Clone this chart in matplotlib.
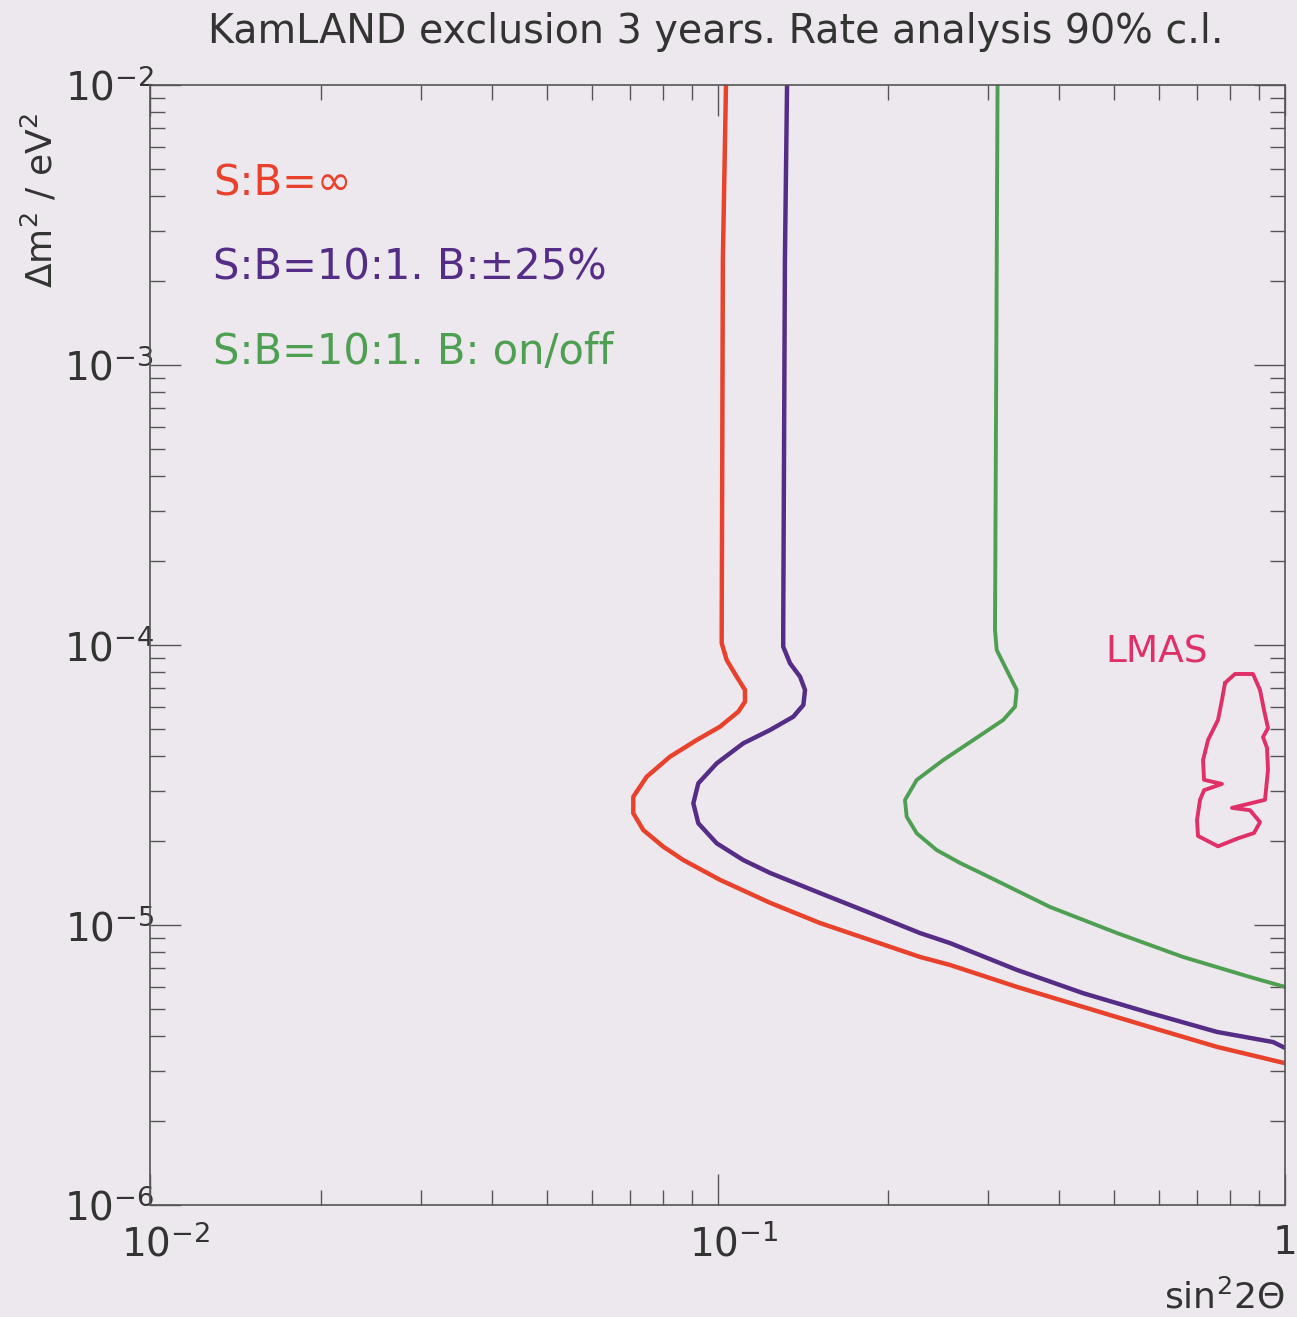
import matplotlib
matplotlib.use("Agg")
import matplotlib.pyplot as plt
import matplotlib.transforms as mtransforms
from matplotlib.ticker import LogLocator, FixedFormatter, NullFormatter, FixedLocator

# exclusion contours (sin^2 2theta, dm^2 in eV^2)
red_x = [0.1035, 0.1022, 0.10172, 0.10172, 0.10380, 0.1081, 0.1118, 0.1118, 0.1088,
         0.10102, 0.09191, 0.08245, 0.07503, 0.07106, 0.07106, 0.07400, 0.08025, 0.08705,
         0.1010, 0.1238, 0.1516, 0.1857, 0.2274, 0.2568, 0.3371, 0.4406, 0.5782, 0.7589, 1.0]
red_y = [1e-2, 2.371e-3, 1.1313e-4, 1.0141e-4, 8.841e-5, 7.705e-5, 6.909e-5, 6.274e-5, 5.778e-5,
         5.108e-5, 4.577e-5, 3.990e-5, 3.385e-5, 2.871e-5, 2.506e-5, 2.184e-5, 1.904e-5, 1.706e-5,
         1.45e-5, 1.20e-5, 1.016e-5, 8.84e-6, 7.69e-6, 7.20e-6, 6.01e-6, 5.10e-6, 4.32e-6,
         3.67e-6, 3.21e-6]

purple_x = [0.1326, 0.13146, 0.13056, 0.13056, 0.13421, 0.13979, 0.14265, 0.14167, 0.13602,
            0.12377, 0.11102, 0.09968, 0.09251, 0.09066, 0.09251, 0.09968, 0.11102, 0.1238,
            0.1516, 0.1857, 0.2274, 0.2568, 0.3371, 0.4406, 0.5782, 0.7589, 0.9525, 1.0]
purple_y = [1e-2, 2.371e-3, 1.1313e-4, 9.861e-5, 8.604e-5, 7.705e-5, 6.909e-5, 6.106e-5, 5.546e-5,
            4.971e-5, 4.455e-5, 3.779e-5, 3.207e-5, 2.720e-5, 2.308e-5, 1.958e-5, 1.706e-5, 1.534e-5,
            1.30e-5, 1.104e-5, 9.36e-6, 8.62e-6, 6.91e-6, 5.71e-6, 4.85e-6, 4.15e-6, 3.82e-6, 3.64e-6]

green_x = [0.3115, 0.3105, 0.30832, 0.31046, 0.32330, 0.33670, 0.33439, 0.31875, 0.28230,
           0.24993, 0.22438, 0.21398, 0.21546, 0.22438, 0.24334, 0.26760, 0.2936, 0.3854,
           0.5058, 0.6611, 0.8675, 1.0]
green_y = [1e-2, 2.371e-3, 1.1313e-4, 9.597e-5, 8.143e-5, 6.909e-5, 6.021e-5, 5.398e-5, 4.577e-5,
           3.883e-5, 3.295e-5, 2.795e-5, 2.437e-5, 2.126e-5, 1.852e-5, 1.665e-5, 1.521e-5, 1.16e-5,
           9.36e-6, 7.69e-6, 6.52e-6, 6.01e-6]

# LMA solution region
lma_x = [0.7839, 0.8164, 0.8782, 0.9036, 0.9184, 0.9334, 0.9147, 0.9296, 0.9334, 0.9221,
         0.8064, 0.8675, 0.9036, 0.8818, 0.8264, 0.7620, 0.7026, 0.6998, 0.7084, 0.7200,
         0.7743, 0.7200, 0.7171, 0.7318, 0.7620, 0.7743, 0.7839]
lma_y = [7.32e-5, 7.88e-5, 7.88e-5, 6.91e-5, 5.86e-5, 5.05e-5, 4.69e-5, 4.29e-5, 3.58e-5, 2.80e-5,
         2.62e-5, 2.57e-5, 2.33e-5, 2.13e-5, 2.04e-5, 1.91e-5, 2.08e-5, 2.37e-5, 2.80e-5, 3.03e-5,
         3.19e-5, 3.30e-5, 3.88e-5, 4.58e-5, 5.40e-5, 6.36e-5, 7.32e-5]

labels = ["S:B=\u221e", "S:B=10:1. B:\u00b125%", "S:B=10:1. B: on/off"]
x_ticks = [1e-2, 1e-1, 1]
x_ticklabels = ["$10^{-2}$", "$10^{-1}$", "1"]
y_ticks = [1e-6, 1e-5, 1e-4, 1e-3, 1e-2]
y_ticklabels = ["$10^{-6}$", "$10^{-5}$", "$10^{-4}$", "$10^{-3}$", "$10^{-2}$"]

bg = "#ede8ee"
c_red = "#e8412c"
c_purple = "#562d86"
c_green = "#4f9f52"
c_lma = "#e03068"

plt.rcParams["font.family"] = ["DejaVu Sans"]
plt.rcParams["mathtext.fontset"] = "dejavusans"

fig = plt.figure(figsize=(12.97, 13.17), dpi=100, facecolor=bg)
ax = fig.add_axes([150 / 1297, 1 - 1205 / 1317, 1135 / 1297, 1120 / 1317], facecolor=bg)

for xs, ys, col, lw in [(red_x, red_y, c_red, 3.2), (purple_x, purple_y, c_purple, 3.2),
                        (green_x, green_y, c_green, 2.8), (lma_x, lma_y, c_lma, 2.8)]:
    ax.plot(xs, ys, color=col, lw=lw, solid_joinstyle="round", solid_capstyle="round")

ax.set_xscale("log")
ax.set_yscale("log")
ax.set_xlim(1e-2, 1)
ax.set_ylim(1e-6, 1e-2)

ax.xaxis.set_major_locator(FixedLocator(x_ticks))
ax.xaxis.set_major_formatter(FixedFormatter(x_ticklabels))
ax.yaxis.set_major_locator(FixedLocator(y_ticks))
ax.yaxis.set_major_formatter(FixedFormatter(y_ticklabels))
ax.xaxis.set_minor_locator(LogLocator(base=10, subs=range(2, 10)))
ax.yaxis.set_minor_locator(LogLocator(base=10, subs=range(2, 10)))
ax.xaxis.set_minor_formatter(NullFormatter())
ax.yaxis.set_minor_formatter(NullFormatter())

ax.tick_params(which="both", direction="in", top=True, right=True, colors="#555555",
               width=1.0, labelcolor="#333333", labelsize=28)
ax.tick_params(which="major", length=22)
ax.tick_params(which="minor", length=11)
ax.tick_params(axis="x", which="major", pad=14)
ax.tick_params(axis="y", which="major", pad=-3)
for s in ax.spines.values():
    s.set_color("#555555")
    s.set_linewidth(1.2)

# PAW-style labels sit a little right of their ticks
shift = mtransforms.ScaledTranslation(16 / 100, 0, fig.dpi_scale_trans)
for lab in ax.get_xticklabels()[:2]:
    lab.set_transform(lab.get_transform() + shift)

fig.text(716 / 1297, 1 - 32 / 1317, "KamLAND exclusion 3 years. Rate analysis 90% c.l.",
         ha="center", va="center", fontsize=28.5, color="#333333")
fig.text(40 / 1297, 1 - 200 / 1317, "\u0394m$^2$ / eV$^2$", rotation=90,
         ha="center", va="center", fontsize=26, color="#333333")
fig.text(1285 / 1297, 1 - 1297 / 1317, "sin$^2$2\u0398", ha="right", va="center",
         fontsize=26, color="#333333")

for lab, col, ypx in zip(labels, [c_red, c_purple, c_green], [183, 268, 352]):
    fig.text(213 / 1297, 1 - ypx / 1317, lab, ha="left", va="center", fontsize=30, color=col)

ax.text(0.595, 9.44e-5, "LMAS", ha="center", va="center", fontsize=27, color=c_lma)

fig.savefig("out.png", dpi=100, facecolor=bg)
